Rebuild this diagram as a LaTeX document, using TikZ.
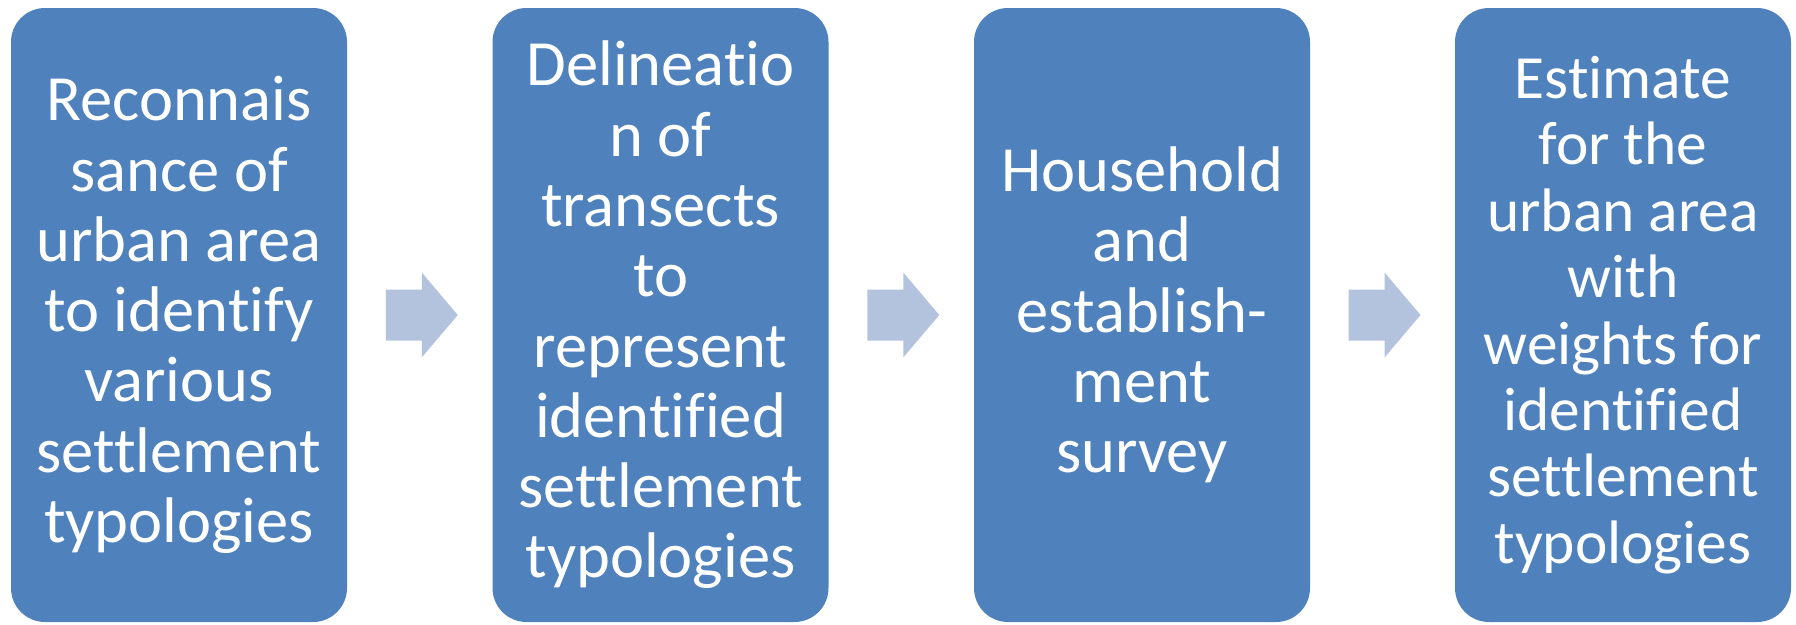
\documentclass[tikz,border=0pt]{standalone}
\usepackage{fontspec}
\setmainfont{Carlito}[RawFeature={-liga;-clig;-dlig;-calt}]
\usetikzlibrary{calc}
\definecolor{boxblue}{RGB}{79,129,189}
\definecolor{arrowblue}{RGB}{179,195,222}
\tikzset{
  stagebox/.style={fill=boxblue, draw=none, rounded corners=34pt,
    minimum width=336pt, minimum height=614pt, inner sep=0pt,
    text=white, align=center, font=\fontsize{64.5}{70.3}\selectfont},
  smallbox/.style={stagebox, font=\fontsize{61.4}{66.4}\selectfont},
  flowarrow/.style={fill=arrowblue, draw=none}
}
\newcommand\blockarrow[1]{%
  \fill[flowarrow] ($(#1)+(-36,-25.5)$) -- ($(#1)+(0,-25.5)$) -- ($(#1)+(0,-42.5)$)
    -- ($(#1)+(36,0)$) -- ($(#1)+(0,42.5)$) -- ($(#1)+(0,25.5)$)
    -- ($(#1)+(-36,25.5)$) -- cycle;}
\begin{document}
\begin{tikzpicture}[x=1pt,y=-1pt]
\useasboundingbox (0,0) rectangle (1796,624);
\node[stagebox] (b1) at (179,315) {Reconnais\\sance of\\urban area\\to identify\\various\\settlement\\typologies};
\node[stagebox] (b2) at (660.5,315) {Delineatio\\n of\\transects\\to\\represent\\identified\\settlement\\typologies};
\node[stagebox] (b3) at (1142,315) {Household\\and\\establish-\\ment\\survey};
\node[smallbox] (b4) at (1623,315) {Estimate\\for the\\urban area\\with\\weights for\\identified\\settlement\\typologies};
\coordinate (m1) at ($(b1.east)!0.5!(b2.west)+(2,0)$);
\coordinate (m2) at ($(b2.east)!0.5!(b3.west)+(2,0)$);
\coordinate (m3) at ($(b3.east)!0.5!(b4.west)+(2,0)$);
\blockarrow{m1}
\blockarrow{m2}
\blockarrow{m3}
\end{tikzpicture}
\end{document}
